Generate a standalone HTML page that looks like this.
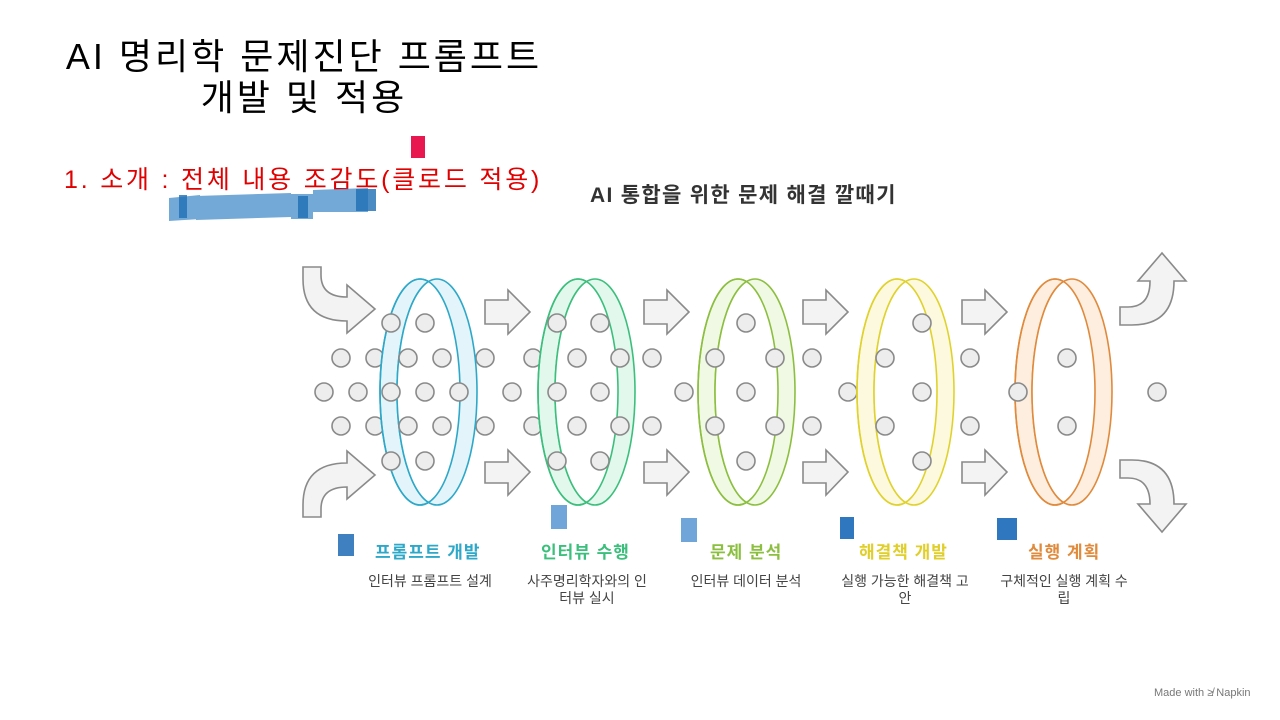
<!DOCTYPE html>
<html><head><meta charset="utf-8"><style>
body{margin:0;width:1280px;height:720px;background:#fff;overflow:hidden;position:relative;font-family:"Liberation Sans","Noto Sans CJK KR",sans-serif}
.t{position:absolute;white-space:nowrap}
.lb{font-size:17px;font-weight:bold;letter-spacing:1px;top:538px}
.ds{width:160px;text-align:center;font-size:14px;line-height:17px;color:#444;top:573px}
</style></head><body>
<div class="t" style="left:42px;top:36px;width:524px;text-align:center;font-size:36px;line-height:41px;color:#000;letter-spacing:3px">AI 명리학 문제진단 프롬프트<br>개발 및 적용</div>
<div class="t" style="left:64px;top:160px;font-size:25px;color:#e00000;letter-spacing:2.8px">1. 소개 : 전체 내용 조감도(클로드 적용)</div>
<div style="position:absolute;left:411px;top:136px;width:14px;height:22px;background:#e8174f"></div>
<svg style="position:absolute;left:0;top:0" width="1280" height="720">
<g fill="#5b9bd0" opacity="0.85">
<polygon points="169,198 200,195 200,219 169,221"/>
<polygon points="196,196 291,193 291,217 196,220"/>
<polygon points="291,194 313,194 313,219 291,219"/>
<polygon points="313,190 368,188 368,212 313,212"/>
</g>
<g fill="#1f6fb5" opacity="0.8"><rect x="179" y="195" width="8" height="23"/><rect x="356" y="189" width="20" height="22"/><rect x="298" y="196" width="10" height="22"/></g>
<rect x="338" y="534" width="16" height="22" fill="#3e80c0"/>
<rect x="551" y="505" width="16" height="24" fill="#6fa5d8"/>
<rect x="681" y="518" width="16" height="24" fill="#6fa5d8"/>
<rect x="840" y="517" width="14" height="22" fill="#2f78c0"/>
<rect x="997" y="518" width="20" height="22" fill="#2f78c0"/>
<defs>
<clipPath id="c1"><ellipse cx="420" cy="392" rx="40" ry="113"/></clipPath>
<clipPath id="c2"><ellipse cx="578" cy="392" rx="40" ry="113"/></clipPath>
<clipPath id="c3"><ellipse cx="738" cy="392" rx="40" ry="113"/></clipPath>
<clipPath id="c4"><ellipse cx="897" cy="392" rx="40" ry="113"/></clipPath>
<clipPath id="c5"><ellipse cx="1055" cy="392" rx="40" ry="113"/></clipPath>
</defs>
<g fill="#f3f3f3" stroke="#8a8a8a" stroke-width="1.6">
<path d="M303,267 h18 v8 q0,22 26,22 v-12 l28,24 l-28,24 v-12 q-44,0 -44,-42 z"/>
<path d="M303,517 h18 v-8 q0,-22 26,-22 v12 l28,-24 l-28,-24 v12 q-44,0 -44,42 z"/>
<path d="M1120,325 v-18 h8 q22,0 22,-26 h-12 l24,-28 l24,28 h-12 q0,44 -42,44 z"/>
<path d="M1120,460 v18 h8 q22,0 22,26 h-12 l24,28 l24,-28 h-12 q0,-44 -42,-44 z"/>
<g id="ar"><path d="M485,300 h23 v-10 l22,22 l-22,22 v-10 h-23 z"/><path d="M485,462 h23 v-12 l22,22 l-22,23 v-12 h-23 z"/></g>
<use href="#ar" x="159"/><use href="#ar" x="318"/><use href="#ar" x="477"/>
</g>
<g fill="#ededed" stroke="#8a8a8a" stroke-width="1.6">
<circle cx="341" cy="358" r="9"/><circle cx="375" cy="358" r="9"/><circle cx="341" cy="426" r="9"/><circle cx="375" cy="426" r="9"/>
<circle cx="324" cy="392" r="9"/><circle cx="358" cy="392" r="9"/>
<circle cx="485" cy="358" r="9"/><circle cx="533" cy="358" r="9"/><circle cx="485" cy="426" r="9"/><circle cx="533" cy="426" r="9"/><circle cx="512" cy="392" r="9"/>
<circle cx="652" cy="358" r="9"/><circle cx="652" cy="426" r="9"/><circle cx="684" cy="392" r="9"/>
<circle cx="812" cy="358" r="9"/><circle cx="812" cy="426" r="9"/><circle cx="848" cy="392" r="9"/>
<circle cx="970" cy="358" r="9"/><circle cx="970" cy="426" r="9"/>
<circle cx="1157" cy="392" r="9"/>
</g>
<g stroke-width="1.6">
<g stroke="#2ea8c8" fill="#e3f5fb"><ellipse cx="420" cy="392" rx="40" ry="113"/><ellipse cx="437" cy="392" rx="40" ry="113"/><ellipse cx="437" cy="392" rx="40" ry="113" fill="#fff" clip-path="url(#c1)"/><ellipse cx="420" cy="392" rx="40" ry="113" fill="none"/></g>
<g stroke="#3cbf7c" fill="#e2f8ec"><ellipse cx="578" cy="392" rx="40" ry="113"/><ellipse cx="595" cy="392" rx="40" ry="113"/><ellipse cx="595" cy="392" rx="40" ry="113" fill="#fff" clip-path="url(#c2)"/><ellipse cx="578" cy="392" rx="40" ry="113" fill="none"/></g>
<g stroke="#8cbf40" fill="#f0f9e3"><ellipse cx="738" cy="392" rx="40" ry="113"/><ellipse cx="755" cy="392" rx="40" ry="113"/><ellipse cx="755" cy="392" rx="40" ry="113" fill="#fff" clip-path="url(#c3)"/><ellipse cx="738" cy="392" rx="40" ry="113" fill="none"/></g>
<g stroke="#e0d22e" fill="#fdf9df"><ellipse cx="897" cy="392" rx="40" ry="113"/><ellipse cx="914" cy="392" rx="40" ry="113"/><ellipse cx="914" cy="392" rx="40" ry="113" fill="#fff" clip-path="url(#c4)"/><ellipse cx="897" cy="392" rx="40" ry="113" fill="none"/></g>
<g stroke="#e08a3c" fill="#fdeee0"><ellipse cx="1055" cy="392" rx="40" ry="113"/><ellipse cx="1072" cy="392" rx="40" ry="113"/><ellipse cx="1072" cy="392" rx="40" ry="113" fill="#fff" clip-path="url(#c5)"/><ellipse cx="1055" cy="392" rx="40" ry="113" fill="none"/></g>
</g>
<g stroke="#8a8a8a" stroke-width="1.6" fill="#ededed">
<circle cx="391" cy="323" r="9"/><circle cx="425" cy="323" r="9"/><circle cx="391" cy="461" r="9"/><circle cx="425" cy="461" r="9"/>
<circle cx="408" cy="358" r="9"/><circle cx="442" cy="358" r="9"/><circle cx="408" cy="426" r="9"/><circle cx="442" cy="426" r="9"/>
<circle cx="391" cy="392" r="9"/><circle cx="425" cy="392" r="9"/><circle cx="459" cy="392" r="9"/>
<circle cx="557" cy="323" r="9"/><circle cx="600" cy="323" r="9"/><circle cx="557" cy="461" r="9"/><circle cx="600" cy="461" r="9"/>
<circle cx="577" cy="358" r="9"/><circle cx="620" cy="358" r="9"/><circle cx="577" cy="426" r="9"/><circle cx="620" cy="426" r="9"/>
<circle cx="557" cy="392" r="9"/><circle cx="600" cy="392" r="9"/>
<circle cx="746" cy="323" r="9"/><circle cx="746" cy="392" r="9"/><circle cx="746" cy="461" r="9"/>
<circle cx="715" cy="358" r="9"/><circle cx="715" cy="426" r="9"/><circle cx="775" cy="358" r="9"/><circle cx="775" cy="426" r="9"/>
<circle cx="922" cy="323" r="9"/><circle cx="922" cy="392" r="9"/><circle cx="922" cy="461" r="9"/>
<circle cx="885" cy="358" r="9"/><circle cx="885" cy="426" r="9"/>
<circle cx="1067" cy="358" r="9"/><circle cx="1067" cy="426" r="9"/><circle cx="1018" cy="392" r="9"/>
</g>
</svg>
<div class="t" style="left:590px;top:179px;font-size:21px;font-weight:bold;color:#333;letter-spacing:1.3px">AI 통합을 위한 문제 해결 깔때기</div>
<div class="t lb" style="left:375px;color:#2ea8c8">프롬프트 개발</div>
<div class="t lb" style="left:541px;color:#3cbf7c">인터뷰 수행</div>
<div class="t lb" style="left:710px;color:#8cbf40">문제 분석</div>
<div class="t lb" style="left:859px;color:#e0cf2a">해결책 개발</div>
<div class="t lb" style="left:1028px;color:#e08a3c">실행 계획</div>
<div class="t ds" style="left:350px">인터뷰 프롬프트 설계</div>
<div class="t ds" style="left:507px">사주명리학자와의 인<br>터뷰 실시</div>
<div class="t ds" style="left:666px">인터뷰 데이터 분석</div>
<div class="t ds" style="left:825px">실행 가능한 해결책 고<br>안</div>
<div class="t ds" style="left:984px">구체적인 실행 계획 수<br>립</div>
<div class="t" style="left:1154px;top:687px;font-size:11px;color:#777">Made with ≱ Napkin</div>
</body></html>
